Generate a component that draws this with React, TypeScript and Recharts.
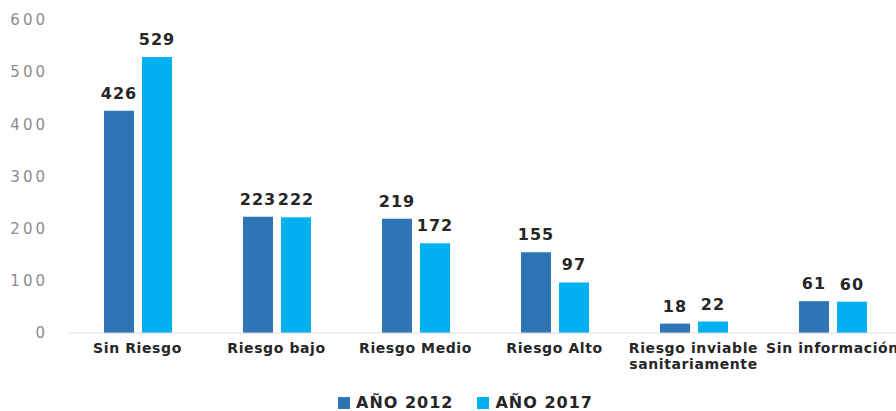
import { BarChart, Bar, XAxis, YAxis, Legend, LabelList } from "recharts";

const categories = [
    "Sin Riesgo",
    "Riesgo bajo",
    "Riesgo Medio",
    "Riesgo Alto",
    "Riesgo inviable sanitariamente",
    "Sin información",
];
const values2012 = [426, 223, 219, 155, 18, 61];
const values2017 = [529, 222, 172, 97, 22, 60];
const yTicks = [0, 100, 200, 300, 400, 500, 600];

const DARK = "#2e75b6";
const LIGHT = "#00b0f0";
const FONT = "'DejaVu Sans', sans-serif";

const data = categories.map((name, i) => ({
    name,
    y2012: values2012[i],
    y2017: values2017[i],
}));

// break long labels into lines of at most ~16 characters
function splitLabel(text: string, max = 16) {
    const words = text.split(" ");
    const lines: string[] = [];
    let cur = "";
    words.forEach((w) => {
        const next = cur ? cur + " " + w : w;
        if (next.length > max && cur) {
            lines.push(cur);
            cur = w;
        } else {
            cur = next;
        }
    });
    if (cur) lines.push(cur);
    return lines;
}

const CategoryTick = ({ x, y, payload }: any) => {
    const lines = splitLabel(payload.value);
    return (
        <text x={x} y={y + 12} textAnchor="middle" fill="#262626" fontSize={14} fontWeight="bold" fontFamily={FONT} letterSpacing={0.6}>
            {lines.map((l, i) => (
                <tspan key={i} x={x} dy={i === 0 ? 0 : 16}>
                    {l}
                </tspan>
            ))}
        </text>
    );
};

const LegendContent = () => (
    <div style={{ display: "flex", alignItems: "center", paddingLeft: 338, paddingTop: 17, fontFamily: FONT }}>
        {[
            { label: "AÑO 2012", color: DARK },
            { label: "AÑO 2017", color: LIGHT },
        ].map((item, i) => (
            <div key={i} style={{ display: "flex", alignItems: "center", marginRight: 24 }}>
                <span style={{ width: 12, height: 12, background: item.color, display: "inline-block", marginRight: 6 }} />
                <span style={{ fontSize: 16, fontWeight: "bold", color: "#262626", letterSpacing: 1, lineHeight: "17px" }}>{item.label}</span>
            </div>
        ))}
    </div>
);

export default function App() {
    return (
        <div style={{ position: "absolute", left: 0, top: 0, width: 896, height: 411, overflow: "hidden", background: "#fff" }}>
            <BarChart
                width={910}
                height={411}
                data={data}
                margin={{ top: 20, right: 8, left: 0, bottom: 0 }}
                barSize={30}
                barGap={8}
            >
                <XAxis
                    dataKey="name"
                    interval={0}
                    height={44}
                    tickLine={false}
                    axisLine={{ stroke: "#d9d9d9" }}
                    tick={<CategoryTick />}
                />
                <YAxis
                    width={68}
                    domain={[0, 600]}
                    ticks={yTicks}
                    axisLine={false}
                    tickLine={false}
                    tickMargin={14}
                    tick={{ fill: "#8c8c8c", fontSize: 15, fontFamily: FONT, letterSpacing: 3 }}
                />
                <Legend verticalAlign="bottom" height={34} content={<LegendContent />} />
                <Bar dataKey="y2012" fill={DARK} isAnimationActive={false}>
                    <LabelList dataKey="y2012" position="top" offset={12} fill="#262626" fontSize={16} fontWeight="bold" fontFamily={FONT} letterSpacing={1} />
                </Bar>
                <Bar dataKey="y2017" fill={LIGHT} isAnimationActive={false}>
                    <LabelList dataKey="y2017" position="top" offset={12} fill="#262626" fontSize={16} fontWeight="bold" fontFamily={FONT} letterSpacing={1} />
                </Bar>
            </BarChart>
        </div>
    );
}
